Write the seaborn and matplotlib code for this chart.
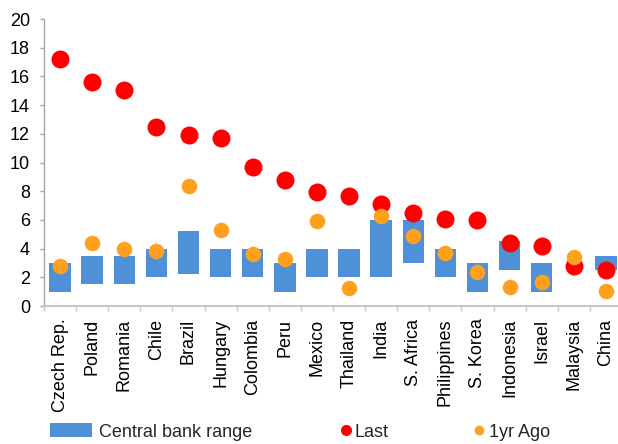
import numpy as np
import pandas as pd
import matplotlib
matplotlib.use("Agg")
import matplotlib.pyplot as plt
import seaborn as sns
from matplotlib.patches import Patch
from matplotlib.lines import Line2D

countries = ["Czech Rep.", "Poland", "Romania", "Chile", "Brazil", "Hungary",
             "Colombia", "Peru", "Mexico", "Thailand", "India", "S. Africa",
             "Philippines", "S. Korea", "Indonesia", "Israel", "Malaysia", "China"]
range_low = [1.0, 1.5, 1.5, 2.0, 2.25, 2.0, 2.0, 1.0, 2.0, 2.0, 2.0, 3.0,
             2.0, 1.0, 2.5, 1.0, np.nan, 2.5]
range_high = [3.0, 3.5, 3.5, 4.0, 5.25, 4.0, 4.0, 3.0, 4.0, 4.0, 6.0, 6.0,
              4.0, 3.0, 4.5, 3.0, np.nan, 3.5]
last = [17.2, 15.6, 15.05, 12.5, 11.9, 11.73, 9.68, 8.78, 7.97, 7.69, 7.08, 6.5,
        6.09, 5.97, 4.38, 4.16, 2.77, 2.5]
year_ago = [2.79, 4.4, 3.95, 3.8, 8.38, 5.3, 3.62, 3.25, 5.9, 1.25, 6.27, 4.9,
            3.72, 2.39, 1.31, 1.67, 3.42, 1.07]
yticks = list(range(0, 21, 2))

BLUE = "#4F91D9"
RED = "#FF0000"
ORANGE = "#FFA11E"
GRAY = "#A6A6A6"

sns.set_style("white")
plt.rcParams["font.family"] = ["Liberation Sans", "DejaVu Sans"]

df = pd.DataFrame({"country": countries, "low": range_low, "high": range_high,
                   "last": last, "ago": year_ago})
df["pos"] = np.arange(len(df))
df["span"] = (df["high"] - df["low"]).fillna(0)
df["base"] = df["low"].fillna(0)

fig = plt.figure(figsize=(6.18, 4.44), dpi=100)
ax = fig.add_axes([44 / 618, (444 - 306) / 444, 578 / 618, 287 / 444])

sns.barplot(data=df, x="country", y="span", bottom=df["base"].values,
            color=BLUE, saturation=1, width=0.67, linewidth=0,
            errorbar=None, ax=ax, zorder=2)
sns.scatterplot(data=df, x="pos", y="last", color=RED, s=168, linewidth=0,
                ax=ax, zorder=3, legend=False)
sns.scatterplot(data=df, x="pos", y="ago", color=ORANGE, s=125, linewidth=0,
                ax=ax, zorder=4, legend=False)

n = len(countries)
ax.set_xlim(-0.5, n - 0.5)
ax.set_ylim(0, 20)
ax.set_yticks(yticks)
ax.set_yticklabels([str(v) for v in yticks], fontsize=13, color="black")
ax.set_xticks(np.arange(n))
ax.set_xticklabels(countries, rotation=90, fontsize=13, color="black")
ax.set_xticks(np.arange(-0.5, n, 1), minor=True)
ax.tick_params(axis="x", which="major", length=0, pad=9)
ax.tick_params(axis="x", which="minor", length=3.6, color="#C8C8C8", width=1,
               direction="out", bottom=True)
ax.tick_params(axis="y", which="major", length=3, color=GRAY, width=1,
               direction="out", pad=7, left=True)
ax.set_xlabel("")
ax.set_ylabel("")
for s in ["top", "right"]:
    ax.spines[s].set_visible(False)
ax.spines["left"].set_color(GRAY)
ax.spines["left"].set_linewidth(1)
ax.spines["bottom"].set_color("#C8C8C8")
ax.spines["bottom"].set_linewidth(1.5)
ax.grid(False)

ycen = 1 - 432 / 444
fs = 13
h1 = Patch(facecolor=BLUE, edgecolor="none")
fig.legend(handles=[h1], labels=["Central bank range"], loc="center left",
           bbox_to_anchor=(50 / 618, ycen), frameon=False, fontsize=fs,
           borderpad=0, borderaxespad=0, handlelength=2.33, handleheight=0.8,
           handletextpad=0.36)
h2 = Line2D([], [], marker="o", linestyle="none", color=RED, markersize=8,
            markeredgewidth=0)
fig.legend(handles=[h2], labels=["Last"], loc="center left",
           bbox_to_anchor=(340 / 618, ycen), frameon=False, fontsize=fs,
           borderpad=0, borderaxespad=0, handlelength=0.7, handletextpad=0.1)
h3 = Line2D([], [], marker="o", linestyle="none", color=ORANGE, markersize=7,
            markeredgewidth=0)
fig.legend(handles=[h3], labels=["1yr Ago"], loc="center left",
           bbox_to_anchor=(474 / 618, ycen), frameon=False, fontsize=fs,
           borderpad=0, borderaxespad=0, handlelength=0.6, handletextpad=0.25)

fig.savefig("out.png", dpi=100)
